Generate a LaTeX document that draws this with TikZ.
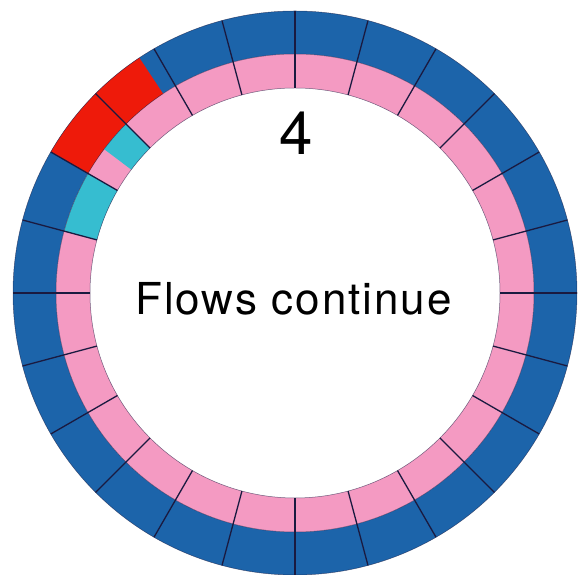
\documentclass[tikz,border=0pt]{standalone}
\usepackage{fontspec}
\setmainfont{TeX Gyre Heros}
\definecolor{ringblue}{HTML}{1C64AA}
\definecolor{ringpink}{HTML}{F49AC2}
\definecolor{ringcyan}{HTML}{36BDD0}
\definecolor{ringred}{HTML}{EE1A0A}
\definecolor{divline}{HTML}{1A1A40}
\tikzset{
  divider/.style={draw=divline, line width=1.3pt},
  rimline/.style={draw=divline, line width=0.5pt, draw opacity=0.6},
  label/.style={inner sep=0pt, text=black}
}
\newcommand{\ringsector}[5]{% a1 a2 rin rout colour
  \fill[#5] (#1:#4) arc[start angle=#1, end angle=#2, radius=#4]
    -- (#2:#3) arc[start angle=#2, end angle=#1, radius=#3] -- cycle;}
\begin{document}
\begin{tikzpicture}[x=1pt,y=1pt]
\useasboundingbox (0,0) rectangle (579,575);
\begin{scope}[shift={(295,282)}]
  % base rings
  \ringsector{0}{360}{239}{282}{ringblue}
  \ringsector{0}{360}{205}{239}{ringpink}
  % highlighted cells
  \ringsector{123.5}{150}{239}{282}{ringred}
  \ringsector{135}{143}{205}{239}{ringcyan}
  \ringsector{150}{165}{205}{239}{ringcyan}
  % rims
  \draw[rimline] (0,0) circle[radius=282];
  \draw[rimline] (0,0) circle[radius=239];
  \draw[rimline] (0,0) circle[radius=205];
  % radial dividers
  \foreach \a in {0,15,...,345} {
    \draw[divider] (\a:205) -- (\a:282);
  }
\end{scope}
\node[label, font=\fontsize{60}{60}\selectfont] (count) at (296,442) {4};
\node[label, font=\fontsize{44}{44}\selectfont\addfontfeatures{LetterSpace=4.5}] (caption) at (293.5,276) {Flows continue};
\end{tikzpicture}
\end{document}
